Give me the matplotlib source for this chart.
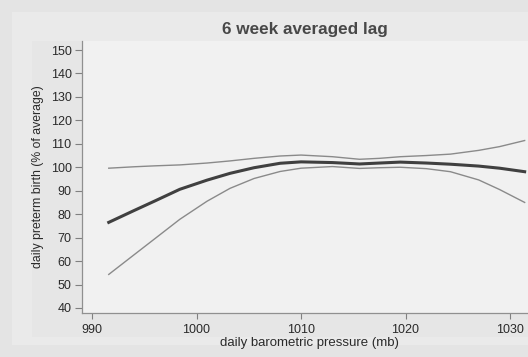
import matplotlib.pyplot as plt
from matplotlib.patches import Rectangle

# daily barometric pressure (mb)
pressure = [991.6, 994.0, 996.0, 998.4, 1001.0, 1003.2, 1005.5, 1008.0, 1010.0,
            1013.0, 1015.6, 1017.5, 1019.5, 1022.0, 1024.3, 1027.0, 1029.0, 1031.4]
# fitted curve and confidence limits (% of average)
fit = [76.5, 81.5, 85.6, 90.6, 94.5, 97.4, 99.8, 101.7, 102.3,
       102.0, 101.4, 101.8, 102.2, 101.8, 101.3, 100.5, 99.6, 98.1]
upper = [99.6, 100.2, 100.6, 101.0, 101.8, 102.7, 103.8, 104.8, 105.2,
         104.5, 103.4, 103.8, 104.5, 105.0, 105.6, 107.2, 108.8, 111.4]
lower = [54.3, 62.6, 69.5, 77.8, 85.5, 91.0, 95.2, 98.2, 99.6,
         100.3, 99.5, 99.8, 100.0, 99.4, 98.1, 94.6, 90.5, 85.0]

xticks = [990, 1000, 1010, 1020, 1030]
yticks = list(range(40, 151, 10))

plt.rcParams['font.family'] = ['Liberation Sans', 'DejaVu Sans']

fig = plt.figure(figsize=(5.28, 3.57), dpi=100)
fig.patch.set_facecolor('#e4e4e4')
fig.patches.append(Rectangle((12 / 528, 12 / 357), 1, 1 - 24 / 357,
                             transform=fig.transFigure, facecolor='#eaeaea',
                             edgecolor='none', zorder=-2))
# slightly darker band behind the axis labels
fig.patches.append(Rectangle((32 / 528, 20 / 357), 50 / 528, 296 / 357,
                             transform=fig.transFigure, facecolor='#e6e6e6',
                             edgecolor='none', zorder=-1))
fig.patches.append(Rectangle((32 / 528, 20 / 357), 1, 24 / 357,
                             transform=fig.transFigure, facecolor='#e6e6e6',
                             edgecolor='none', zorder=-1))

ax = fig.add_axes([82 / 528, 44 / 357, 446 / 528, 272 / 357])
ax.set_facecolor('#f1f1f1')

ax.plot(pressure, upper, color='#8a8a8a', lw=1.0)
ax.plot(pressure, lower, color='#8a8a8a', lw=1.0)
ax.plot(pressure, fit, color='#404040', lw=2.2)

ax.set_xlim(989.04, 1031.72)
ax.set_ylim(37.85, 153.84)
ax.set_xticks(xticks)
ax.set_yticks(yticks)
ax.tick_params(axis='both', width=0.8, color='#808080',
               labelsize=9, labelcolor='#2a2a2a')
ax.tick_params(axis='y', length=5, pad=2.5)
ax.tick_params(axis='x', length=4, pad=4)

for side in ['top', 'right']:
    ax.spines[side].set_visible(False)
for side in ['left', 'bottom']:
    ax.spines[side].set_color('#909090')
    ax.spines[side].set_linewidth(0.9)

ax.set_xlabel("daily barometric pressure (mb)", fontsize=9.5, color='#2a2a2a')
ax.xaxis.set_label_coords(0.511, -0.088)
ax.set_ylabel("daily preterm birth (% of average)", fontsize=8.8, color='#2a2a2a', labelpad=5)
ax.set_title("6 week averaged lag", fontsize=12.3, fontweight='bold', color='#484848', pad=5)

fig.savefig("out.png", dpi=100, facecolor=fig.get_facecolor())
